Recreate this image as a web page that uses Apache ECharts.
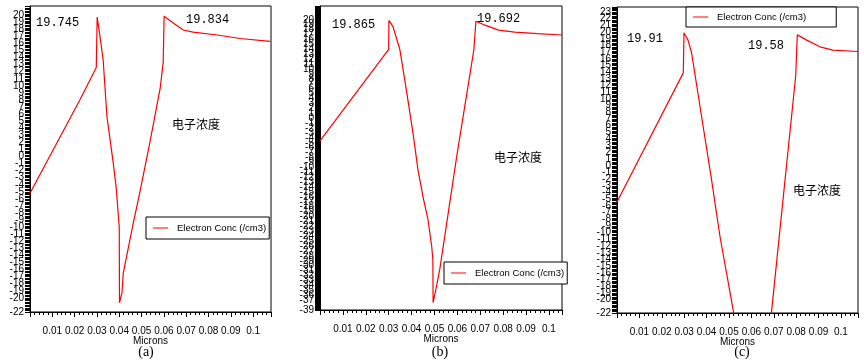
<!DOCTYPE html>
<html><head><meta charset="utf-8">
<script src="https://cdn.jsdelivr.net/npm/echarts@6/dist/echarts.min.js"></script>
<style>html,body{margin:0;padding:0;background:#fff}#c{width:864px;height:363px}</style>
</head><body><div id="c"></div>
<script>
// ---- data (log10 electron concentration vs. depth in microns) ----
const seriesName = 'Electron Conc (/cm3)';
const xA = [0, 0.0225, 0.0297, 0.0301, 0.0318, 0.0328, 0.0345, 0.0373, 0.0386, 0.0395, 0.0400, 0.0401, 0.0412, 0.0418, 0.0463, 0.0494, 0.0539, 0.0584, 0.0597, 0.0601, 0.0642, 0.0687, 0.0731, 0.0839, 0.0942, 0.1076];
const yA = [-5.2, 8.1, 12.6, 19.745, 16.0, 13.6, 5.6, -0.9, -4.3, -8.0, -10.0, -20.7, -19.3, -16.5, -9.4, -4.8, 2.3, 9.8, 13.4, 19.834, 18.9, 17.9, 17.6, 17.2, 16.7, 16.3];
const xB = [0, 0.0300, 0.0301, 0.0319, 0.0349, 0.0379, 0.0406, 0.0428, 0.0450, 0.0472, 0.0488, 0.0493, 0.0494, 0.0510, 0.0524, 0.0598, 0.0672, 0.0681, 0.0721, 0.0780, 0.0850, 0.0950, 0.1057];
const yB = [-4.6, 14.0, 19.865, 18.6, 13.9, 5.2, -3.0, -10.5, -16.0, -20.7, -26.1, -28.8, -37.5, -33.9, -30.5, -7.5, 13.9, 19.692, 18.9, 17.9, 17.5, 17.2, 16.9];
const xC = [0, 0.0296, 0.0299, 0.0317, 0.0333, 0.0378, 0.0420, 0.0460, 0.0497, 0.0520, 0.0535, 0.0610, 0.0675, 0.0690, 0.0798, 0.0805, 0.0847, 0.0906, 0.0964, 0.1076];
const yC = [-5.4, 13.9, 19.91, 18.8, 16.9, 7.3, -1.6, -10.6, -17.5, -21.8, -24.0, -30.0, -25.0, -21.8, 13.5, 19.58, 18.8, 17.8, 17.3, 17.1];
const peakLabels = [['19.745', '19.834'], ['19.865', '19.692'], ['19.91', '19.58']];
const panelLabels = ['(a)', '(b)', '(c)'];
const noteText = '电子浓度';
const xName = 'Microns';
const yMins = [-22, -39, -22];
const yLabelMax = [20, 20, 23];

// ---- layout ----
const grids = [
  {left: 30, top: 6, width: 241, height: 306},
  {left: 320, top: 6, width: 242, height: 304},
  {left: 617, top: 7, width: 241, height: 306}
];
const xMaxs = [0.108, 0.1057, 0.1076];
const yMaxs = [21.3, 22.8, 23.75];
const narrow = '"Liberation Sans Narrow", "Liberation Sans", Arial, sans-serif';

const xs = [xA, xB, xC], ys = [yA, yB, yC];
const chart = echarts.init(document.getElementById('c'), null, {renderer: 'canvas'});

const xAxes = grids.map((g, i) => ({
  gridIndex: i, type: 'value', min: 0, max: xMaxs[i], interval: 0.01,
  axisLine: {show: true, onZero: false, lineStyle: {color: '#000', width: 1}},
  axisTick: {show: true, length: 5, lineStyle: {color: '#000'}},
  minorTick: {show: true, splitNumber: 5, length: 3, lineStyle: {color: '#000'}},
  splitLine: {show: false},
  axisLabel: {fontSize: 10, color: '#000', margin: 14, interval: 0, hideOverlap: false,
    fontFamily: 'Liberation Sans, Arial, sans-serif',
    formatter: v => {
      const r = Math.round(v / 0.01);
      if (r === 0 || Math.abs(v - r * 0.01) > 1e-6) return '';
      return String(parseFloat((r * 0.01).toFixed(2)));
    }},
  name: xName, nameLocation: 'middle', nameGap: 24, nameMoveOverlap: false,
  nameTextStyle: {fontSize: 10, color: '#000', fontFamily: narrow, verticalAlign: 'top'}
}));

const yAxes = grids.map((g, i) => ({
  gridIndex: i, type: 'value', min: yMins[i], max: yMaxs[i], interval: 1,
  axisLine: {show: true, onZero: false, lineStyle: {color: '#000', width: 1}},
  axisTick: {show: true, length: 5, interval: 0, lineStyle: {color: '#000'}},
  minorTick: {show: true, splitNumber: 5, length: 5, lineStyle: {color: '#000'}},
  splitLine: {show: false},
  axisLabel: {fontSize: 10, color: '#000', margin: 6, interval: 0, hideOverlap: false,
    overflow: 'none', fontFamily: narrow, showMinLabel: true,
    formatter: v => {
      const r = Math.round(v);
      if (Math.abs(v - r) > 1e-6 || r > yLabelMax[i]) return '';
      return String(r);
    }}
}));

const series = grids.map((g, i) => ({
  name: seriesName, type: 'line', xAxisIndex: i, yAxisIndex: i,
  data: xs[i].map((x, k) => [x, ys[i][k]]),
  symbol: 'none', clip: true,
  lineStyle: {color: '#ff0000', width: 1.2}, itemStyle: {color: '#ff0000'}
}));

const legendBase = {
  data: [seriesName], orient: 'horizontal', backgroundColor: '#fff',
  borderColor: '#000', borderWidth: 1, borderRadius: 0,
  itemWidth: 15, itemHeight: 1, icon: 'rect', selectedMode: false,
  itemStyle: {color: '#ff0000'},
  textStyle: {fontSize: 9.5, color: '#000', fontFamily: 'Liberation Sans, Arial, sans-serif', padding: [0, 0, 0, 4]}
};
const legends = [
  Object.assign({}, legendBase, {left: 146, top: 217, padding: [6, 3, 6, 7]}),
  Object.assign({}, legendBase, {left: 444, top: 262, padding: [6, 3, 6, 7]}),
  Object.assign({}, legendBase, {left: 686, top: 7, padding: [5, 30, 5, 7]})
];

const annPos = [[[36, 23], [186, 20]], [[332, 25], [477, 19]], [[627, 39], [748, 46]]];
const notePos = [[172, 124], [494, 157], [793, 190]];
const panelPos = [[146, 352], [440, 352], [742, 352]];
const graphics = [];
peakLabels.forEach((pair, i) => pair.forEach((t, j) => graphics.push({
  type: 'text', x: annPos[i][j][0], y: annPos[i][j][1], z: 10,
  style: {text: t, font: '12px "Liberation Mono", monospace', fill: '#000', align: 'left', verticalAlign: 'middle'}
})));
notePos.forEach(p => graphics.push({
  type: 'text', x: p[0], y: p[1], z: 10,
  style: {text: noteText, font: '12px "Noto Sans CJK SC", sans-serif', fill: '#000', align: 'left', verticalAlign: 'middle'}
}));
panelLabels.forEach((t, i) => graphics.push({
  type: 'text', x: panelPos[i][0], y: panelPos[i][1], z: 10,
  style: {text: t, font: '14px "Liberation Serif", serif', fill: '#000', align: 'center', verticalAlign: 'middle'}
}));

chart.setOption({
  animation: false,
  backgroundColor: '#fff',
  grid: grids.map(g => Object.assign({show: true, borderColor: '#000', borderWidth: 1,
    backgroundColor: 'transparent', containLabel: false, outerBoundsMode: 'none'}, g)),
  xAxis: xAxes, yAxis: yAxes, series: series, legend: legends, graphic: graphics
});
</script></body></html>
